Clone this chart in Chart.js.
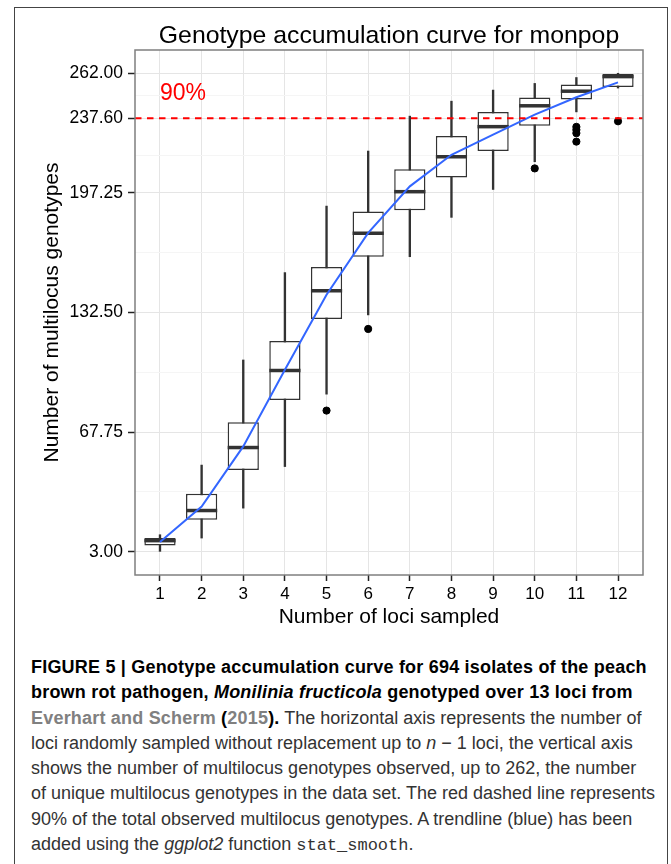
<!DOCTYPE html>
<html>
<head>
<meta charset="utf-8">
<script src="https://cdn.jsdelivr.net/npm/chart.js@4.4.0/dist/chart.umd.min.js"></script>
<style>
  body { margin: 0; background: #fff; }
  #frame { position: absolute; left: 14px; top: 7px; width: 652px; height: 880px; border: 1.5px solid #444; }
  #wrap { position: absolute; left: 0; top: 0; width: 671px; height: 640px; }
  #caption { position: absolute; left: 31px; top: 655px; font-family: "Liberation Sans", Arial, sans-serif;
             font-size: 18px; line-height: 25.3px; color: #333; white-space: nowrap; }
  #caption b { color: #000; letter-spacing: 0.2px; }
  #caption .ref { color: #808080; }
  #caption code { font-family: "Liberation Mono", monospace; font-size: 17px; }
</style>
</head>
<body>
<div id="frame"></div>
<div id="wrap"><canvas id="chart" width="671" height="640"></canvas></div>
<div id="caption">
  <div><b>FIGURE 5 | Genotype accumulation curve for 694 isolates of the peach</b></div>
  <div><b>brown rot pathogen, <i>Monilinia fructicola</i> genotyped over 13 loci from</b></div>
  <div><b><span class="ref">Everhart and Scherm</span> (<span class="ref">2015</span>).</b> The horizontal axis represents the number of</div>
  <div>loci randomly sampled without replacement up to <i>n</i> &minus; 1 loci, the vertical axis</div>
  <div>shows the number of multilocus genotypes observed, up to 262, the number</div>
  <div>of unique multilocus genotypes in the data set. The red dashed line represents</div>
  <div>90% of the total observed multilocus genotypes. A trendline (blue) has been</div>
  <div>added using the <i>ggplot2</i> function <code>stat_smooth</code>.</div>
</div>
<script>
// boxplot summaries per number of loci sampled
const loci = [1, 2, 3, 4, 5, 6, 7, 8, 9, 10, 11, 12];
const whiskerLow = [3.2, 10.4, 26.6, 49.1, 88.3, 131.2, 162.7, 184.0, 199.1, 214.1, 241.1, 254.0];
const q1 = [6.4, 20.3, 47.3, 85.2, 129.0, 162.7, 187.8, 205.6, 219.9, 233.6, 247.8, 254.6];
const medians = [9.0, 25.3, 59.4, 101.1, 144.3, 175.4, 197.9, 216.8, 233.1, 244.4, 252.3, 260.2];
const q3 = [10.4, 34.4, 73.1, 117.1, 157.1, 187.2, 210.1, 228.0, 241.1, 248.9, 255.9, 261.6];
const whiskerHigh = [12.2, 49.9, 106.8, 154.1, 190.1, 219.9, 238.8, 246.9, 252.9, 256.5, 259.7, 262.0];

// outlying points
const outlierLoci = [5, 6, 10, 11, 11, 11, 11, 12];
const outlierValues = [79.4, 123.6, 210.5, 233.0, 231.4, 229.6, 225.0, 236.0];

// stat_smooth trend (blue)
const smoothValues = [8.3, 27.5, 60.0, 101.5, 142.1, 175.6, 200.8, 217.9, 228.8, 239.6, 249.0, 257.1];

const yTicks = [3.00, 67.75, 132.50, 197.25, 237.60, 262.00];
const threshold = 237.6;
const thresholdLabel = '90%';
const thresholdLabelAt = { x: 1, y: 251 };

const chartTitle = 'Genotype accumulation curve for monpop';
const xTitle = 'Number of loci sampled';
const yTitle = 'Number of multilocus genotypes';
const FONT = '"Liberation Sans", Arial, sans-serif';

function points(vals) {
  return loci.map((x, i) => ({ x: x, y: vals[i] }));
}

// ggplot style minor grid lines sit half way between the major breaks
function gridTicks() {
  const out = [];
  yTicks.forEach((v, i) => {
    out.push({ value: v, minor: false });
    if (i < yTicks.length - 1) out.push({ value: (v + yTicks[i + 1]) / 2, minor: true });
  });
  return out;
}

const overlay = {
  id: 'overlay',
  afterDatasetsDraw(chart) {
    const { ctx, chartArea: a, scales: { x, y } } = chart;
    const yy = y.getPixelForValue(threshold);
    ctx.save();
    ctx.strokeStyle = '#FF0000';
    ctx.lineWidth = 2;
    ctx.setLineDash([6.5, 5.5]);
    ctx.beginPath();
    ctx.moveTo(a.left, yy);
    ctx.lineTo(a.right, yy);
    ctx.stroke();
    ctx.setLineDash([]);

    ctx.fillStyle = '#FF0000';
    ctx.font = '23px ' + FONT;
    ctx.textAlign = 'left';
    ctx.textBaseline = 'middle';
    ctx.fillText(thresholdLabel, x.getPixelForValue(thresholdLabelAt.x), y.getPixelForValue(thresholdLabelAt.y));

    // panel border
    ctx.strokeStyle = '#7F7F7F';
    ctx.lineWidth = 1.5;
    ctx.strokeRect(a.left, a.top, a.right - a.left, a.bottom - a.top);

    // title centred over the panel
    ctx.fillStyle = '#000';
    ctx.font = '24.8px ' + FONT;
    ctx.textAlign = 'center';
    ctx.textBaseline = 'alphabetic';
    ctx.fillText(chartTitle, (a.left + a.right) / 2, a.top - 7);
    ctx.restore();
  }
};

new Chart(document.getElementById('chart'), {
  type: 'bar',
  data: {
    datasets: [
      {
        type: 'line', label: 'trend', data: points(smoothValues),
        borderColor: '#3366FF', borderWidth: 2, pointRadius: 0, tension: 0, order: 0
      },
      {
        type: 'scatter', label: 'outliers',
        data: outlierLoci.map((x, i) => ({ x: x, y: outlierValues[i] })),
        backgroundColor: '#000', borderColor: '#000', pointRadius: 3.6, order: 1
      },
      {
        type: 'line', label: 'median', data: points(medians), showLine: false,
        pointStyle: 'line', pointRadius: 15.6, pointBorderWidth: 3.5, pointBorderColor: '#333', order: 2
      },
      {
        label: 'box', data: loci.map((x, i) => ({ x: x, y: [q1[i], q3[i]] })),
        backgroundColor: '#fff', borderColor: '#333', borderWidth: 1.5, borderSkipped: false,
        grouped: false, barPercentage: 0.75, categoryPercentage: 1, order: 3
      },
      {
        label: 'whisker', data: loci.map((x, i) => ({ x: x, y: [whiskerLow[i], whiskerHigh[i]] })),
        backgroundColor: '#333', barThickness: 1.7, grouped: false, order: 4
      }
    ]
  },
  options: {
    responsive: false,
    animation: false,
    events: [],
    layout: { padding: { left: 0, right: 28, top: 50, bottom: 0 } },
    plugins: { legend: { display: false }, tooltip: { enabled: false } },
    scales: {
      x: {
        type: 'linear', min: 0.4, max: 12.6, offset: false,
        afterFit: s => { s.height = 65; },
        ticks: {
          stepSize: 1, includeBounds: false, autoSkip: false, maxRotation: 0,
          color: '#000', padding: 3, font: { family: FONT, size: 17 }
        },
        grid: { offset: false, color: '#E5E5E5', lineWidth: 1, tickLength: 6, tickColor: '#222', tickWidth: 1.5 },
        border: { display: false },
        title: { display: true, text: xTitle, color: '#000', font: { family: FONT, size: 21 }, padding: { top: 0, bottom: 10 } }
      },
      y: {
        type: 'linear', min: -9.6, max: 274.6,
        afterBuildTicks: s => { s.ticks = gridTicks(); },
        afterFit: s => { s.width = 135; },
        ticks: {
          autoSkip: false, color: '#000', padding: 5, font: { family: FONT, size: 17.5 },
          callback: (v, i, ticks) => ticks[i].minor ? '' : Number(v).toFixed(2)
        },
        grid: {
          color: c => (c.tick && c.tick.minor) ? '#F5F5F5' : '#E5E5E5',
          tickColor: c => (c.tick && c.tick.minor) ? 'rgba(0,0,0,0)' : '#222',
          lineWidth: 1, tickLength: 7, tickWidth: 1.5
        },
        border: { display: false },
        title: { display: true, text: yTitle, color: '#000', font: { family: FONT, size: 21 }, padding: { top: 40, bottom: 0 } }
      }
    }
  },
  plugins: [overlay]
});
</script>
</body>
</html>
